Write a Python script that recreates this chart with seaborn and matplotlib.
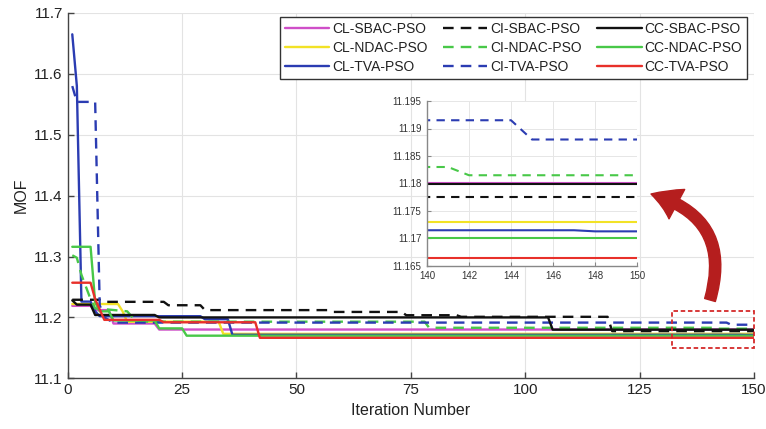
import numpy as np
import pandas as pd
import matplotlib
matplotlib.use("Agg")
import matplotlib.pyplot as plt
import seaborn as sns
from matplotlib.patches import Rectangle, FancyArrowPatch

# ---------------- data (iteration breakpoints, MOF values) ----------------
cl_sbac_x = [1, 5, 6, 9, 10, 19, 20, 150]
cl_sbac_y = [11.219, 11.219, 11.212, 11.212, 11.19, 11.19, 11.1801, 11.1801]

cl_ndac_x = [1, 11, 12, 13, 33, 34, 150]
cl_ndac_y = [11.222, 11.222, 11.21, 11.193, 11.193, 11.173, 11.173]

cl_tva_x = [1, 2, 3, 5, 6, 7, 29, 30, 35, 36, 147, 148, 150]
cl_tva_y = [11.665, 11.58, 11.226, 11.226, 11.21, 11.202, 11.202, 11.197, 11.197,
            11.1715, 11.1715, 11.1713, 11.1713]

ci_sbac_x = [1, 7, 8, 21, 22, 29, 30, 57, 58, 73, 74, 85, 86, 118, 119, 150]
ci_sbac_y = [11.229, 11.229, 11.2256, 11.2256, 11.22, 11.22, 11.212, 11.212,
             11.209, 11.209, 11.2036, 11.2036, 11.201, 11.201, 11.1775, 11.1775]

ci_ndac_x = [1, 2, 3, 5, 6, 13, 15, 78, 79, 141, 142, 150]
ci_ndac_y = [11.302, 11.298, 11.27, 11.23, 11.215, 11.21, 11.193, 11.193,
             11.183, 11.183, 11.1815, 11.1815]

ci_tva_x = [1, 2, 6, 7, 8, 10, 144, 145, 150]
ci_tva_y = [11.58, 11.554, 11.554, 11.22, 11.2, 11.1915, 11.1915, 11.188, 11.188]

cc_sbac_x = [1, 2, 5, 6, 19, 20, 105, 106, 150]
cc_sbac_y = [11.228, 11.221, 11.221, 11.204, 11.204, 11.2, 11.2, 11.1799, 11.1799]

cc_ndac_x = [1, 5, 6, 7, 9, 10, 19, 20, 25, 26, 150]
cc_ndac_y = [11.316, 11.316, 11.225, 11.21, 11.21, 11.195, 11.195, 11.182, 11.182,
             11.17, 11.17]

cc_tva_x = [1, 5, 6, 8, 20, 21, 41, 42, 150]
cc_tva_y = [11.257, 11.257, 11.23, 11.196, 11.196, 11.192, 11.192, 11.1665, 11.1665]

series_names = ["CL-SBAC-PSO", "CL-NDAC-PSO", "CL-TVA-PSO",
                "CI-SBAC-PSO", "CI-NDAC-PSO", "CI-TVA-PSO",
                "CC-SBAC-PSO", "CC-NDAC-PSO", "CC-TVA-PSO"]
series_xy = [(cl_sbac_x, cl_sbac_y), (cl_ndac_x, cl_ndac_y), (cl_tva_x, cl_tva_y),
             (ci_sbac_x, ci_sbac_y), (ci_ndac_x, ci_ndac_y), (ci_tva_x, ci_tva_y),
             (cc_sbac_x, cc_sbac_y), (cc_ndac_x, cc_ndac_y), (cc_tva_x, cc_tva_y)]

x_ticks = [0, 25, 50, 75, 100, 125, 150]
y_ticks = [11.1, 11.2, 11.3, 11.4, 11.5, 11.6, 11.7]
y_tick_labels = ["11.1", "11.2", "11.3", "11.4", "11.5", "11.6", "11.7"]
inset_x_ticks = [140, 142, 144, 146, 148, 150]
inset_y_ticks = [11.165, 11.17, 11.175, 11.18, 11.185, 11.19, 11.195]
inset_y_tick_labels = ["11.165", "11.17", "11.175", "11.18", "11.185", "11.19", "11.195"]

# ---------------- styles ----------------
colors = {
    "CL-SBAC-PSO": "#cf4fc8", "CL-NDAC-PSO": "#f2e226", "CL-TVA-PSO": "#2b3cb2",
    "CI-SBAC-PSO": "#111111", "CI-NDAC-PSO": "#48c848", "CI-TVA-PSO": "#2b3cb2",
    "CC-SBAC-PSO": "#111111", "CC-NDAC-PSO": "#48c848", "CC-TVA-PSO": "#e8302a",
}
dashed = {n: n.startswith("CI") for n in series_names}

frames = []
for name, (xs, ys) in zip(series_names, series_xy):
    frames.append(pd.DataFrame({"Iteration": xs, "MOF": ys, "Method": name}))
df = pd.concat(frames, ignore_index=True)

sns.set_theme(style="whitegrid")
plt.rcParams["font.family"] = ["Liberation Sans", "DejaVu Sans"]

fig = plt.figure(figsize=(7.66, 4.29), dpi=100)
fig.patch.set_facecolor("white")
W, H = 766, 429
ax = fig.add_axes([67.7 / W, 1 - 378.3 / H, 686.3 / W, 365.3 / H])


def draw(axis, lw, dash):
    for name in series_names:
        sub = df[df["Method"] == name]
        sns.lineplot(data=sub, x="Iteration", y="MOF", ax=axis, estimator=None,
                     sort=False, color=colors[name], linewidth=lw, label=name,
                     legend=False)
        line = axis.get_lines()[-1]
        if dashed[name]:
            line.set_dashes(dash)


draw(ax, 1.7, (4.5, 3.0))

ax.set_xlim(0, 150)
ax.set_ylim(11.1, 11.7)
ax.set_xticks(x_ticks)
ax.set_yticks(y_ticks)
ax.set_yticklabels(y_tick_labels)
ax.set_xlabel("Iteration Number", fontsize=11.5, color="#222222", labelpad=4)
ax.set_ylabel("MOF", fontsize=11.5, color="#222222", labelpad=4)
ax.set_facecolor("white")
ax.grid(True, color="#e3e3e3", linewidth=0.8)
for s in ["top", "right"]:
    ax.spines[s].set_visible(False)
for s in ["left", "bottom"]:
    ax.spines[s].set_visible(True)
    ax.spines[s].set_color("#444444")
    ax.spines[s].set_linewidth(1.0)
ax.tick_params(axis="both", direction="in", length=4, width=1, colors="#444444",
               labelsize=11, labelcolor="#222222", left=True, bottom=True)

# legend
handles = ax.get_lines()[:9]
leg = fig.legend(handles, series_names, ncol=3, loc="upper right",
                 bbox_to_anchor=(747 / W, 1 - 17 / H), bbox_transform=fig.transFigure,
                 borderaxespad=0, fontsize=10, handlelength=3.2, handletextpad=0.2,
                 columnspacing=1.1, labelspacing=0.36, borderpad=0.35,
                 frameon=True, fancybox=False, framealpha=1, edgecolor="#333333")
leg.get_frame().set_linewidth(1.0)
for t in leg.get_texts():
    t.set_color("#222222")

# red dashed zoom rectangle
rect = Rectangle((132, 11.149), 18, 0.062, fill=False, edgecolor="#d42a2a",
                 linewidth=1.3, linestyle=(0, (2.5, 1.5)), zorder=5, clip_on=False)
ax.add_patch(rect)

# inset
axin = fig.add_axes([427 / W, 1 - 266 / H, 210 / W, 165 / H])
draw(axin, 1.5, (4.0, 3.0))
axin.set_xlim(140, 150)
axin.set_ylim(11.165, 11.195)
axin.set_xticks(inset_x_ticks)
axin.set_yticks(inset_y_ticks)
axin.set_yticklabels(inset_y_tick_labels)
axin.set_xlabel("")
axin.set_ylabel("")
axin.set_facecolor("white")
axin.grid(True, color="#e6e6e6", linewidth=0.7)
for s in ["top", "right"]:
    axin.spines[s].set_visible(False)
for s in ["left", "bottom"]:
    axin.spines[s].set_visible(True)
    axin.spines[s].set_color("#888888")
    axin.spines[s].set_linewidth(1.0)
axin.tick_params(axis="both", direction="in", length=3, width=0.8, colors="#888888",
                 labelsize=7, labelcolor="#333333", left=True, bottom=True)
axin.tick_params(axis="y", pad=4)
axin.tick_params(axis="x", pad=3.5)

# curved arrow
arrow = FancyArrowPatch((710 / W, 1 - 300 / H), (651 / W, 1 - 194 / H),
                        transform=fig.transFigure,
                        connectionstyle="arc3,rad=0.5",
                        arrowstyle="simple,head_length=2.0,head_width=2.4,tail_width=0.8",
                        mutation_scale=10, color="#b51e1e", shrinkA=0, shrinkB=0,
                        zorder=10)
fig.patches.append(arrow)

fig.savefig("out.png", dpi=100)
